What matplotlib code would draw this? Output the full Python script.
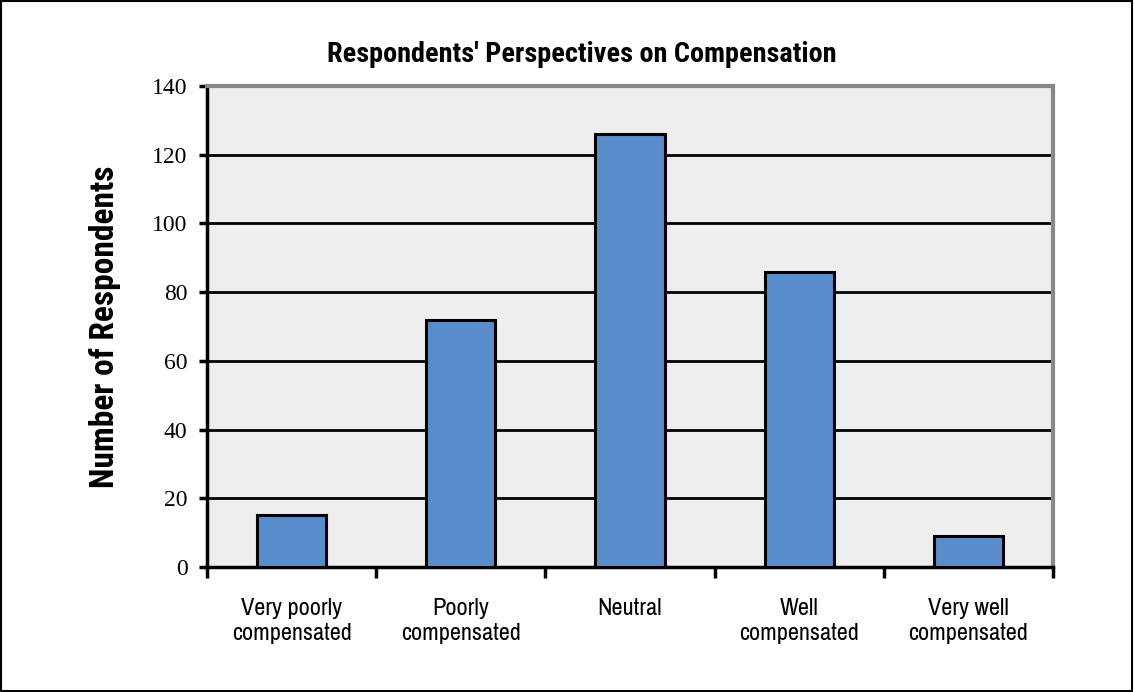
import matplotlib.pyplot as plt
import numpy as np
from matplotlib.patches import Rectangle

# data
categories = ["Very poorly\ncompensated", "Poorly\ncompensated", "Neutral",
              "Well\ncompensated", "Very well\ncompensated"]
respondents = [15, 72, 126, 86, 9]
y_ticks = [0, 20, 40, 60, 80, 100, 120, 140]

narrow = ["Archivo Narrow", "Liberation Sans", "DejaVu Sans"]
narrow_bold = ["Roboto Condensed", "PT Sans Narrow", "Liberation Sans", "DejaVu Sans"]
serif = ["Liberation Serif", "DejaVu Serif"]

fig = plt.figure(figsize=(11.34, 6.92), dpi=100)
ax = fig.add_axes([0.1825, 0.1806, 0.7461, 0.6951])
ax.set_facecolor("#eeeeee")

x = np.arange(len(categories))
ax.bar(x, respondents, width=0.41, color="#588ccb", edgecolor="black",
       linewidth=2.2, zorder=3)

ax.set_xlim(-0.5, len(categories) - 0.5)
ax.set_ylim(0, 140)
ax.set_yticks(y_ticks)
ax.set_yticklabels([str(v) for v in y_ticks], family=serif, fontsize=17)
ax.yaxis.grid(True, color="black", linewidth=2, zorder=1)
ax.set_axisbelow(True)

# category labels centred, ticks on the boundaries
ax.set_xticks(np.arange(len(categories) + 1) - 0.5)
ax.set_xticklabels([])
ax.set_xticks(x, minor=True)
ax.set_xticklabels(categories, minor=True, family=narrow, fontsize=17.5,
                   linespacing=1.25)
ax.tick_params(axis="x", which="minor", length=0, pad=22)
ax.tick_params(axis="x", which="major", length=8, width=2.5, direction="out")
ax.tick_params(axis="y", length=6, width=2.5, direction="out", pad=8)

for side in ["left", "bottom"]:
    ax.spines[side].set_color("black")
    ax.spines[side].set_linewidth(2.5)
for side in ["top", "right"]:
    ax.spines[side].set_color("#888888")
    ax.spines[side].set_linewidth(3)

ax.set_ylabel("Number of Respondents", family=narrow_bold, fontsize=24,
              fontweight="bold", labelpad=22)
fig.text(582 / 1134, 1 - 55 / 692, "Respondents' Perspectives on Compensation",
         family=narrow_bold, fontsize=20.3, fontweight="bold", ha="center", va="center")

# outer frame around the whole figure
fig.patches.append(Rectangle((0.001, 0.001), 0.997, 0.997, transform=fig.transFigure,
                             fill=False, edgecolor="black", linewidth=1.5))

fig.savefig("out.png", dpi=100)
